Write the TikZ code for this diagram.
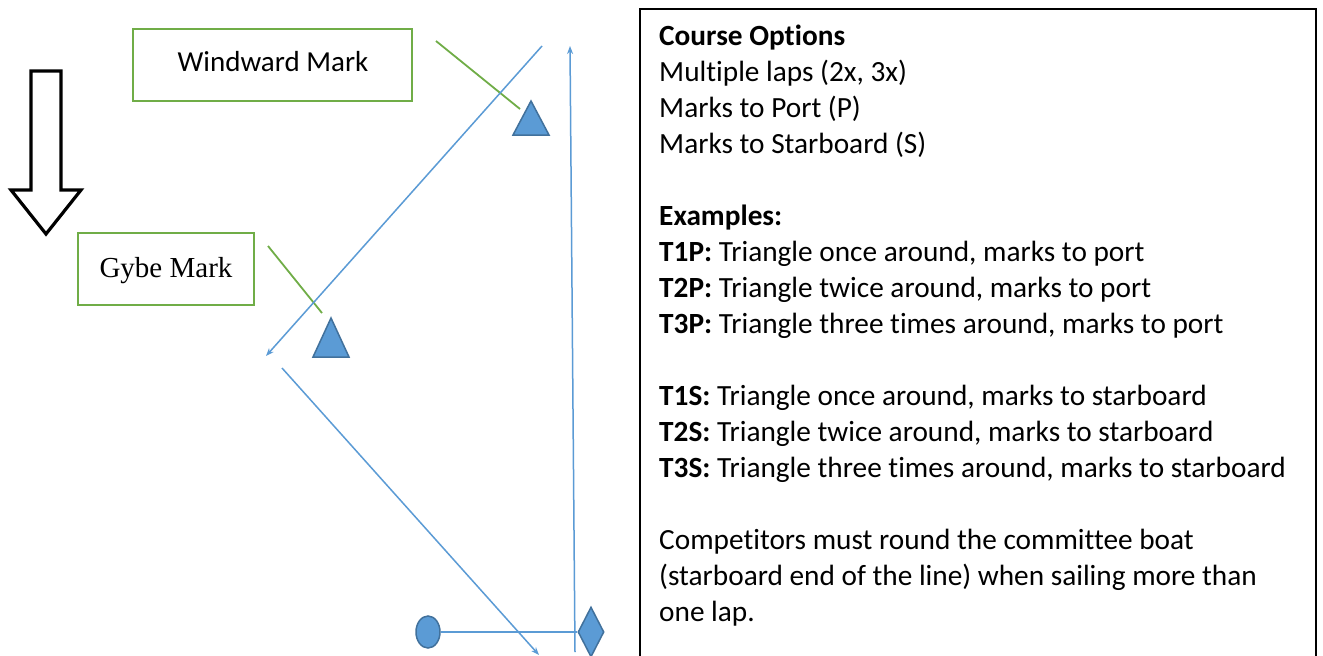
\documentclass[tikz,border=0pt]{standalone}
\usepackage{fontspec}
\setmainfont{Carlito}[Ligatures={NoCommon}]
\newfontfamily\timesfont{Liberation Serif}
\usetikzlibrary{arrows.meta,shapes.geometric}
\definecolor{legblue}{HTML}{5B9BD5}
\definecolor{markedge}{HTML}{41719C}
\definecolor{leadgreen}{HTML}{70AD47}
\tikzset{
  leg/.style={draw=legblue,line width=1.5pt},
  legarrow/.style={leg,-{Stealth[length=8pt,width=6pt]}},
  labelbox/.style={draw=leadgreen,line width=1.8pt},
  leader/.style={draw=leadgreen,line width=1.8pt},
  buoy/.style={fill=legblue,draw=markedge,line width=1.5pt,line join=miter},
  txt/.style={anchor=base west,inner sep=0pt,font=\fontsize{29.3}{36}\selectfont},
}
\begin{document}
\begin{tikzpicture}[x=1pt,y=-1pt]
\useasboundingbox (0,0) rectangle (1323,656);
\clip (0,0) rectangle (1323,656);
\fill[white] (0,0) rectangle (1323,656);

% wind arrow
\draw[black,line width=3.2pt,line join=miter]
  (31,71) -- (61,71) -- (61,190) -- (81,190) -- (46,234) -- (11,190) -- (31,190) -- cycle;

% label boxes
\draw[labelbox] (133,29) rectangle (412,101);
\node[anchor=base,inner sep=0pt,font=\fontsize{29}{36}\selectfont] (ww) at (273,71) {Windward Mark};
\draw[labelbox] (78,233) rectangle (254,305);
\node[anchor=base,inner sep=0pt,font=\timesfont\fontsize{29}{36}\selectfont] (gy) at (166,277) {Gybe Mark};

% leaders
\coordinate (wl1) at (436,41); \coordinate (wl2) at (520,109);
\coordinate (gl1) at (268,246); \coordinate (gl2) at (322,313);
\draw[leader] (wl1) -- (wl2);
\draw[leader] (gl1) -- (gl2);

% course legs
\coordinate (a1) at (542,46); \coordinate (a2) at (266,356);
\coordinate (b1) at (282,368); \coordinate (b2) at (539,655);
\coordinate (c1) at (575,652); \coordinate (c2) at (570,46);
\draw[legarrow] (a1) -- (a2);
\draw[legarrow] (b1) -- (b2);
\draw[legarrow] (c1) -- (c2);

% marks
\draw[buoy] (531,101) -- (549,135) -- (513,135) -- cycle;
\draw[buoy] (331,318) -- (349,357) -- (313,357) -- cycle;
\node[buoy,ellipse,minimum width=24pt,minimum height=32pt,inner sep=0pt] (pin) at (428,632) {};
\node[buoy,diamond,minimum width=26pt,minimum height=50pt,inner sep=0pt,aspect=0.5] (cb) at (591,632) {};
\draw[leg] (pin.east) -- (cb.west);

% info box
\draw[black,line width=2pt] (640,700) -- (640,9) -- (1316,9) -- (1316,700);
\node[txt] (l1) at (659,45) {\textbf{Course Options}};
\node[txt] (l2) at (659,81) {Multiple laps (2x, 3x)};
\node[txt] (l3) at (659,117) {Marks to Port (P)};
\node[txt] (l4) at (659,153) {Marks to Starboard (S)};
\node[txt] (l5) at (659,225) {\textbf{Examples:}};
\node[txt] (l6) at (659,261) {\textbf{T1P:} Triangle once around, marks to port};
\node[txt] (l7) at (659,297) {\textbf{T2P:} Triangle twice around, marks to port};
\node[txt] (l8) at (659,333) {\textbf{T3P:} Triangle three times around, marks to port};
\node[txt] (l9) at (659,405) {\textbf{T1S:} Triangle once around, marks to starboard};
\node[txt] (l10) at (659,441) {\textbf{T2S:} Triangle twice around, marks to starboard};
\node[txt] (l11) at (659,477) {\textbf{T3S:} Triangle three times around, marks to starboard};
\node[txt] (l12) at (659,549) {Competitors must round the committee boat};
\node[txt] (l13) at (659,585) {(starboard end of the line) when sailing more than};
\node[txt] (l14) at (659,621) {one lap.};
\end{tikzpicture}
\end{document}
